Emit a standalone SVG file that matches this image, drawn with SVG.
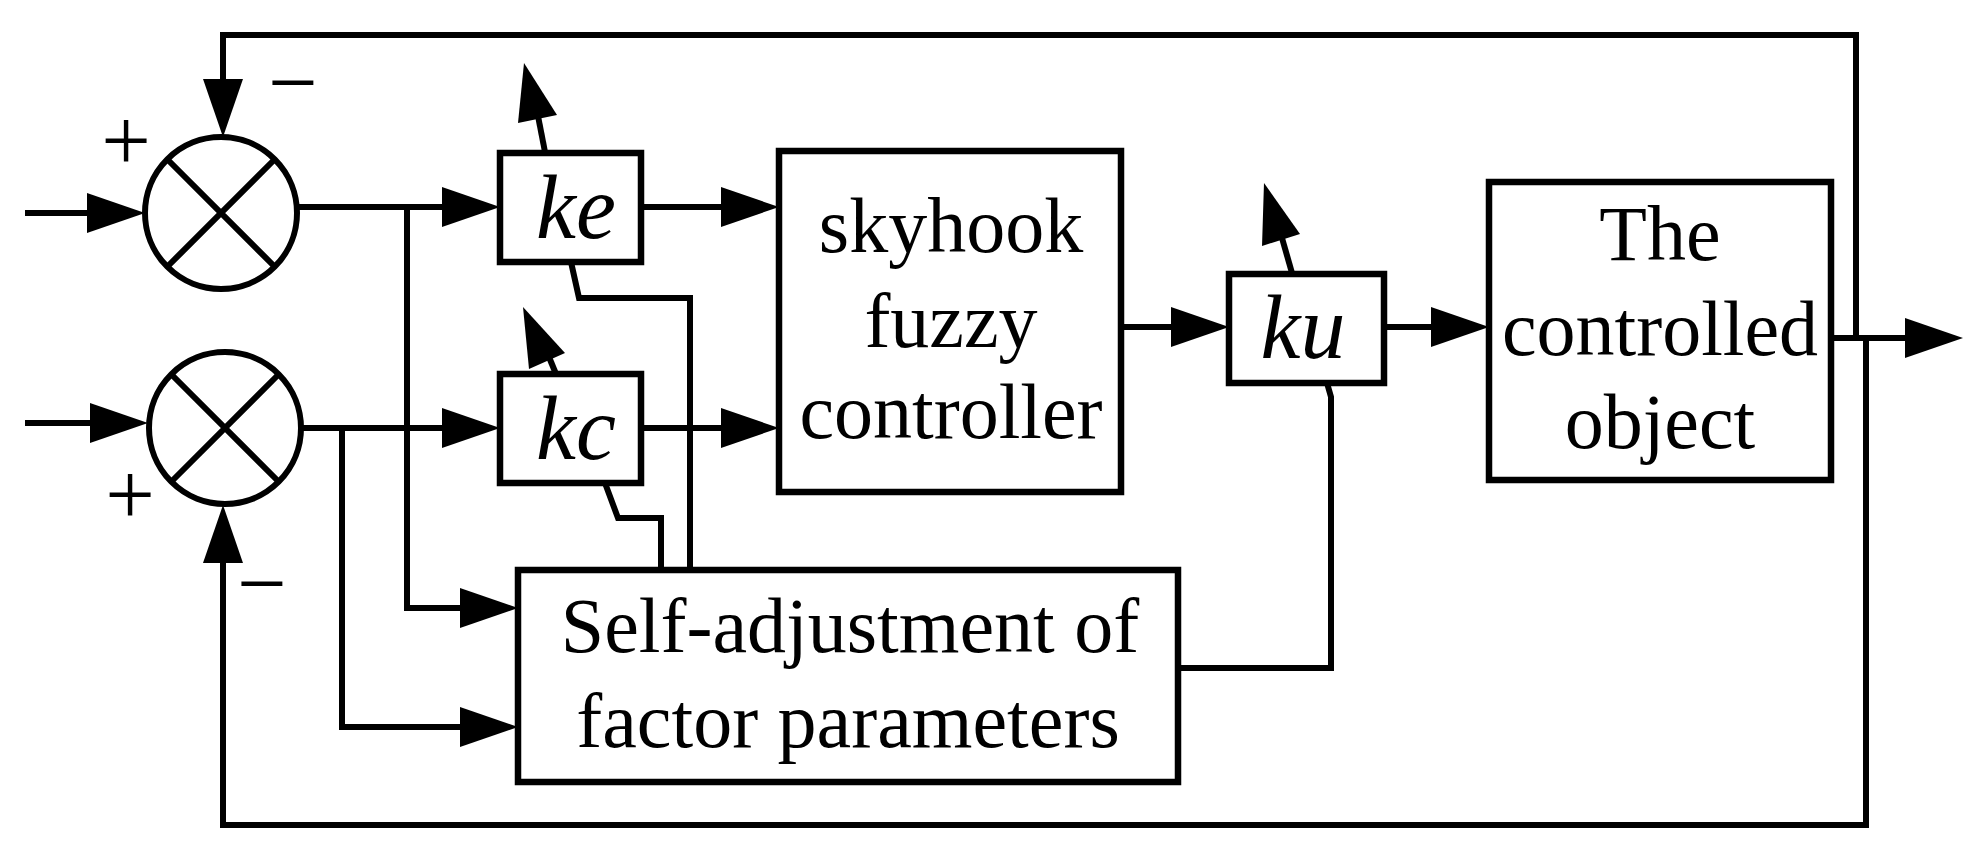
<svg xmlns="http://www.w3.org/2000/svg" width="1985" height="857" viewBox="0 0 1985 857">
<style>
.ln{fill:none;stroke:#000;stroke-width:6;stroke-linejoin:miter;stroke-linecap:butt}
.bx{fill:#fff;stroke:#000;stroke-width:6.5}
.hd{fill:#000;stroke:none}
.t{font-family:"Liberation Serif","Times New Roman",serif;font-size:78px;text-anchor:middle;fill:#000}
.k{font-family:"Liberation Serif","Times New Roman",serif;font-size:90px;font-style:italic;text-anchor:middle;fill:#000}
.s{font-family:"Liberation Serif","Times New Roman",serif;font-size:88px;text-anchor:middle;fill:#000}
</style>
<defs>
<marker id="ah" markerUnits="userSpaceOnUse" markerWidth="60" markerHeight="42" refX="47" refY="20" orient="auto" viewBox="0 0 60 42">
<path d="M0,0 L58,20 L0,40 Z" fill="#000"/>
</marker>
</defs>
<rect width="1985" height="857" fill="#fff"/>
<g id="connectors">
<path class="ln" d="M25,213 L134,213" marker-end="url(#ah)"/>
<path class="ln" d="M25,423 L137,423" marker-end="url(#ah)"/>
<path class="ln" d="M1856,338 L1856,35 L223,35 L223,126" marker-end="url(#ah)"/>
<path class="ln" d="M1866,338 L1866,825 L223,825 L223,516" marker-end="url(#ah)"/>
<path class="ln" d="M297,207 L489,207" marker-end="url(#ah)"/>
<path class="ln" d="M301,428 L489,428" marker-end="url(#ah)"/>
<path class="ln" d="M407,207 L407,608 L507,608" marker-end="url(#ah)"/>
<path class="ln" d="M342,428 L342,727 L507,727" marker-end="url(#ah)"/>
<path class="ln" d="M641,207 L768,207" marker-end="url(#ah)"/>
<path class="ln" d="M641,428 L768,428" marker-end="url(#ah)"/>
<path class="ln" d="M1121,327 L1218,327" marker-end="url(#ah)"/>
<path class="ln" d="M1384,327 L1478,327" marker-end="url(#ah)"/>
<path class="ln" d="M1831,338 L1952,338" marker-end="url(#ah)"/>
<path class="ln" d="M571,262 L579,298 L690,298 L690,570"/>
<path class="ln" d="M605,483 L618,518 L661,518 L661,570"/>
<path class="ln" d="M1327,383 L1331,397 L1331,668 L1178,668"/>
</g>
<g id="adjust-arrows">
<path class="ln" d="M545,152 L538,116"/>
<polygon class="hd" points="524,63 518,123 557,115"/>
<path class="ln" d="M556,374 L549,357"/>
<polygon class="hd" points="523,307 529,369 565,353"/>
<path class="ln" d="M1292,273 L1282,238"/>
<polygon class="hd" points="1264,183 1262,246 1300,234"/>
</g>
<g id="sum1">
<circle cx="221" cy="213" r="76" fill="#fff" stroke="#000" stroke-width="6"/>
<path class="ln" d="M167,159 L275,267 M275,159 L167,267" stroke-width="5"/>
<text class="s" x="126" y="170">+</text>
<text class="s" x="293" y="112">−</text>
</g>
<g id="sum2">
<circle cx="225" cy="428" r="76" fill="#fff" stroke="#000" stroke-width="6"/>
<path class="ln" d="M171,374 L279,482 M279,374 L171,482" stroke-width="5"/>
<text class="s" x="130" y="524">+</text>
<text class="s" x="262" y="613">−</text>
</g>
<g id="ke">
<rect class="bx" x="500" y="153" width="141" height="109"/>
<text class="k" x="576" y="238">ke</text>
</g>
<g id="kc">
<rect class="bx" x="500" y="374" width="141" height="109"/>
<text class="k" x="576" y="459">kc</text>
</g>
<g id="skyhook">
<rect class="bx" x="779" y="151" width="342" height="341"/>
<text class="t" x="951" y="252">skyhook</text>
<text class="t" x="951" y="347">fuzzy</text>
<text class="t" x="951" y="438">controller</text>
</g>
<g id="ku">
<rect class="bx" x="1229" y="274" width="155" height="109"/>
<text class="k" x="1303" y="358">ku</text>
</g>
<g id="plant">
<rect class="bx" x="1489" y="182" width="342" height="298"/>
<text class="t" x="1660" y="260">The</text>
<text class="t" x="1660" y="355">controlled</text>
<text class="t" x="1660" y="448">object</text>
</g>
<g id="selfadjust">
<rect class="bx" x="518" y="570" width="660" height="212"/>
<text class="t" x="850" y="652">Self-adjustment of</text>
<text class="t" x="848" y="747">factor parameters</text>
</g>
</svg>
